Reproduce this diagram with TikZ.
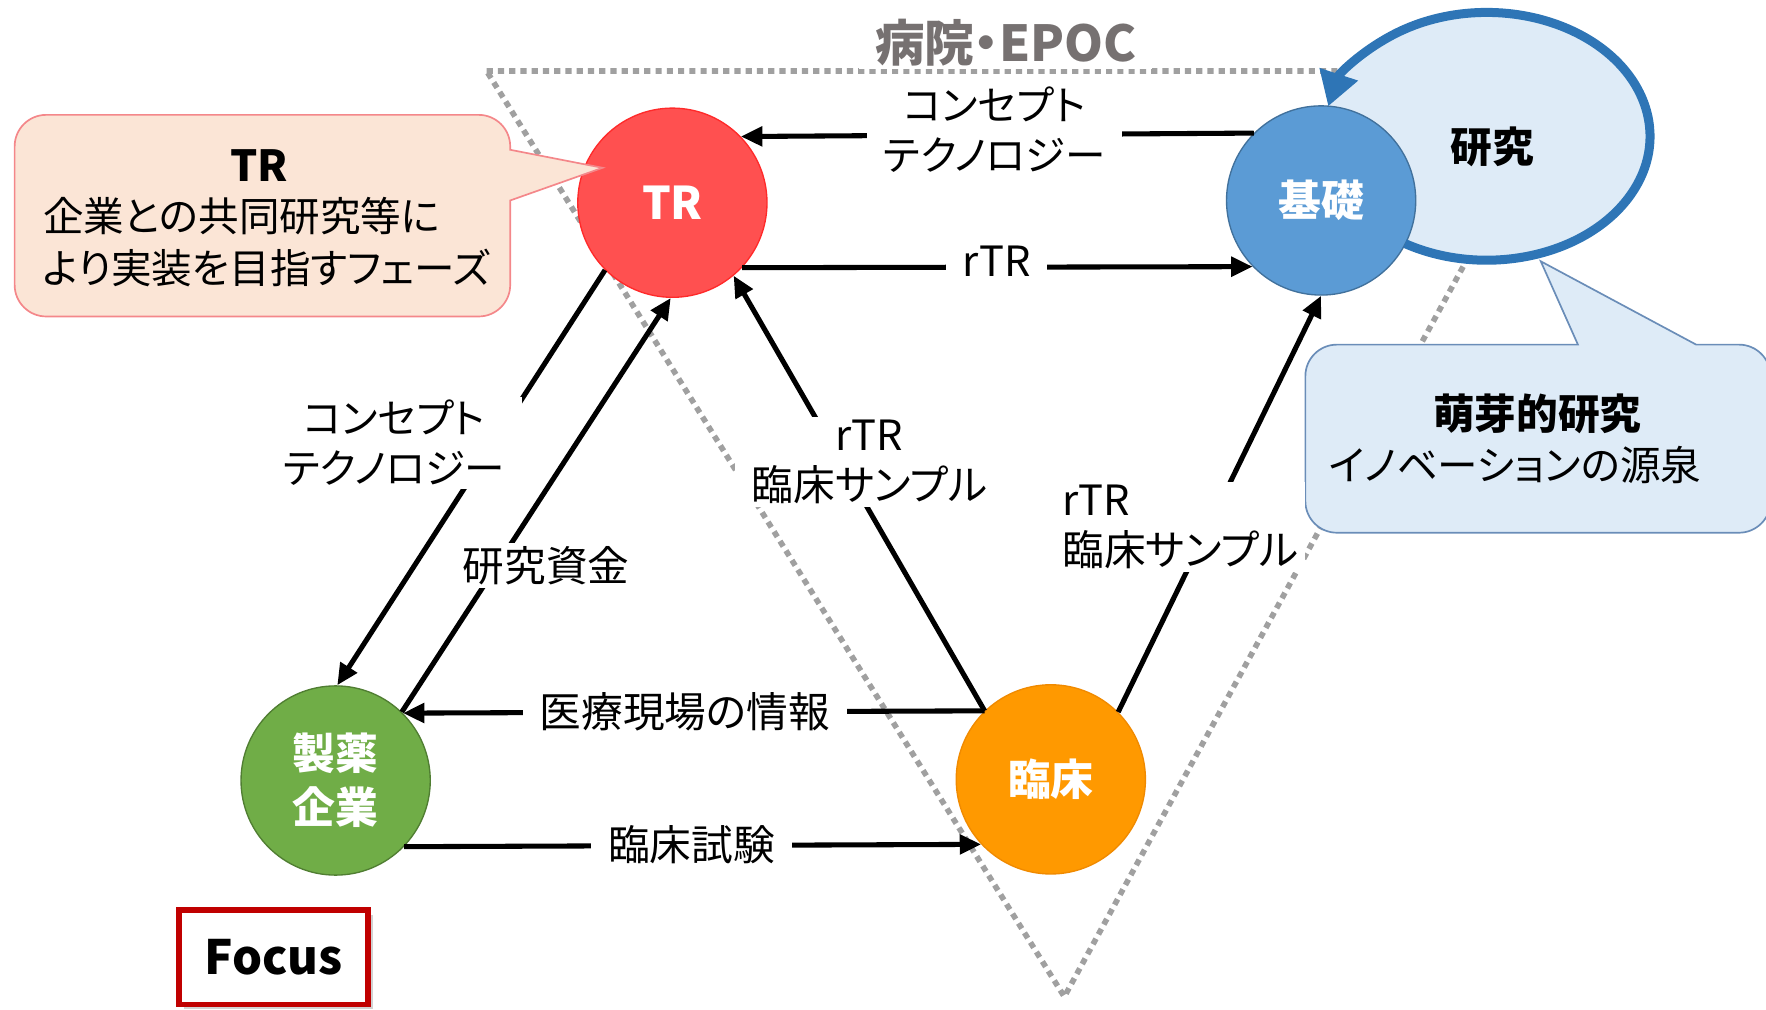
\documentclass[tikz,border=0pt]{standalone}
\usepackage{fontspec}
\setmainfont{Noto Sans CJK JP}[CharacterWidth=AlternateProportional]
\usetikzlibrary{arrows.meta,shadows}
\definecolor{trred}{HTML}{FF5050}
\definecolor{trborder}{HTML}{FF2A2A}
\definecolor{kisoblue}{HTML}{5B9BD5}
\definecolor{kisoborder}{HTML}{41719C}
\definecolor{seigreen}{HTML}{70AD47}
\definecolor{seiborder}{HTML}{507E32}
\definecolor{rinorange}{HTML}{FF9900}
\definecolor{rinborder}{HTML}{F08A00}
\definecolor{lightblue}{HTML}{DEEBF7}
\definecolor{arcblue}{HTML}{2E75B6}
\definecolor{peach}{HTML}{FBE5D6}
\definecolor{peachborder}{HTML}{F4878A}
\definecolor{calloutblue}{HTML}{6A8DB8}
\definecolor{dotgray}{HTML}{A0A0A0}
\definecolor{titlegray}{HTML}{767171}
\definecolor{focusred}{HTML}{C00000}
\tikzset{
  lbl/.style={fill=white, inner xsep=15pt, inner ysep=3pt, align=center,
              font=\fontsize{37}{44}\selectfont},
  arr/.style={line width=4.5pt, -{Triangle[length=19pt,width=17pt]}},
  circ/.style={circle, minimum size=168pt, inner sep=0pt, line width=1.2pt,
               text=white, align=center, font=\bfseries\fontsize{38}{48}\selectfont},
  dotline/.style={draw=dotgray, line width=5pt, dash pattern=on 5.5pt off 4.5pt},
  calltext/.style={inner sep=0pt, font=\fontsize{36}{46}\selectfont},
}
\begin{document}
\begin{tikzpicture}[x=1pt,y=1pt]
\useasboundingbox (0,0) rectangle (1568,896);

% dotted inverted triangle
\draw[dotline] (432,833) -- (1394,833) -- (945,11) -- cycle;

% title
\node[fill=white, inner xsep=14pt, inner ysep=2pt, text=titlegray,
      font=\bfseries\fontsize{44}{44}\selectfont] (title) at (893,858) {病院・EPOC};

% research ellipse fill
\fill[lightblue] (1320,775) ellipse [x radius=145pt, y radius=110pt];

% right callout
\draw[fill=lightblue, draw=calloutblue, line width=1.5pt]
  (1401,590) -- (1368,664) -- (1506,590)
  {[rounded corners=28pt] -- (1572,590) -- (1572,423) -- (1159,423) -- (1159,590)} -- cycle;
\node[inner sep=0pt, font=\bfseries\fontsize{37}{44}\selectfont] (moega) at (1365,529) {萌芽的研究};
\node[calltext, anchor=west] (inov) at (1180,483) {イノベーションの源泉};

% circles
\node[circ, fill=trred, draw=trborder, font=\bfseries\fontsize{40}{48}\selectfont] (TR) at (597,716) {TR};
\node[circ, fill=kisoblue, draw=kisoborder] (KISO) at (1173,718) {基礎};
\node[circ, fill=seigreen, draw=seiborder] (SEI) at (298,203) {製薬\\企業};
\node[circ, fill=rinorange, draw=rinborder] (RIN) at (933,204) {臨床};

% left callout (over TR circle edge)
\draw[fill=peach, draw=peachborder, line width=1.5pt]
  (453,718) -- (535,747) -- (453,763)
  {[rounded corners=28pt] -- (453,794) -- (13,794) -- (13,615) -- (453,615)} -- cycle;
\node[inner sep=0pt, font=\bfseries\fontsize{38}{44}\selectfont] (trt) at (230,749) {TR};
\node[calltext, anchor=west] (trl1) at (38,704) {企業との共同研究等に};
\node[calltext, anchor=west] (trl2) at (38,658) {より実装を目指すフェーズ};

% research loop arc
\draw[arcblue, line width=8pt, -{Triangle[length=30pt,width=34pt]}]
  (1247.5,679.7) arc[start angle=240, end angle=526, x radius=145pt, y radius=110pt];
\node[inner sep=0pt, font=\bfseries\fontsize{37}{44}\selectfont] (kenkyu) at (1325,766) {研究};

% arrows
\draw[arr] (KISO.135) -- (TR.44);
\draw[arr] (TR.-43) -- (KISO.224);
\draw[arr] (TR.225) -- (SEI.89);
\draw[arr] (SEI.46) -- (TR.269);
\draw[arr] (RIN.134) -- (TR.-50);
\draw[arr] (RIN.45) -- (KISO.270);
\draw[arr] (RIN.134) -- (SEI.45);
\draw[arr] (SEI.-44) -- (RIN.223);

% labels
\node[lbl, font=\fontsize{36}{44}\selectfont] (l1) at (883,781) {コンセプト\\テクノロジー};
\node[lbl] (l2) at (885,664) {rTR};
\node[lbl, font=\fontsize{36}{44}\selectfont] (l3) at (350,503) {コンセプト\\テクノロジー};
\node[lbl] (l4) at (485,394) {研究資金};
\node[lbl] (l5) at (772,486) {rTR\\臨床サンプル};
\node[lbl, align=left, inner xsep=6pt] (l6) at (1048,428) {rTR\\臨床サンプル};
\node[lbl] (l7) at (608,264) {医療現場の情報};
\node[lbl] (l8) at (614,146) {臨床試験};

% focus box
\node[draw=focusred, line width=5pt, fill=white, minimum width=168pt, minimum height=84pt,
      drop shadow={shadow xshift=4pt, shadow yshift=-4pt, fill=black!35},
      font=\bfseries\fontsize{42}{42}\selectfont] (focus) at (243,46) {Focus};
\end{tikzpicture}
\end{document}
